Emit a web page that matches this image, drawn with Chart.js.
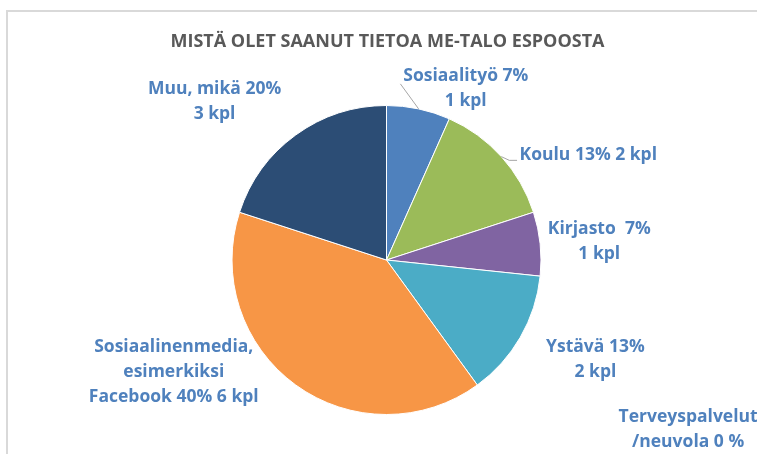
<!DOCTYPE html>
<html>
<head>
<meta charset="utf-8">
<script src="https://cdn.jsdelivr.net/npm/chart.js@4.4.1/dist/chart.umd.min.js"></script>
<style>
html,body{margin:0;padding:0;background:#fff;}
#wrap{position:relative;width:757px;height:454px;}
canvas{display:block;}
</style>
</head>
<body>
<div id="wrap"><canvas id="c" width="757" height="454"></canvas></div>
<script>
// ---- data ----
const categories = ["Sosiaalityö", "Koulu", "Kirjasto", "Ystävä", "Terveyspalvelut /neuvola", "Sosiaalinenmedia, esimerkiksi Facebook", "Muu, mikä"];
const counts = [1, 2, 1, 2, 0, 6, 3];
const labelLines = [
  ["Sosiaalityö 7%", "1 kpl"],
  ["Koulu 13% 2 kpl"],
  ["Kirjasto  7%", "1 kpl"],
  ["Ystävä 13%", "2 kpl"],
  ["Terveyspalvelut", "/neuvola 0 %"],
  ["Sosiaalinenmedia,", "esimerkiksi", "Facebook 40% 6 kpl"],
  ["Muu, mikä 20%", "3 kpl"]
];
const title = "MISTÄ OLET SAANUT TIETOA ME-TALO ESPOOSTA";

// ---- styles / label placement (in units of pie radius, relative to centre) ----
const colors = ["#4F81BD", "#9BBB59", "#8064A2", "#4BACC6", "#C0504D", "#F79646", "#2C4D75"];
const labelOffsets = [
  [0.513, -1.113], [1.306, -0.677], [1.377, -0.119], [1.352, 0.642],
  [1.952, 1.097], [-1.377, 0.723], [-1.113, -1.023]
];
const leaders = { 0: [[0.09, -1.14]], 1: [[0.795, -0.645], [0.845, -0.645]] };
const FONT = "'Open Sans', Lato, sans-serif";
const LABEL_COLOR = "#4F81BD";
const LINE_H = 25;

const overlay = {
  id: "overlay",
  afterDraw(chart) {
    const ctx = chart.ctx;
    const meta = chart.getDatasetMeta(0);
    const a0 = meta.data[0];
    const cx = a0.x, cy = a0.y, R = a0.outerRadius;
    ctx.save();
    // frame
    ctx.strokeStyle = "#D9D9D9";
    ctx.lineWidth = 2;
    ctx.beginPath();
    ctx.moveTo(7, 454); ctx.lineTo(7, 11); ctx.lineTo(757, 11);
    ctx.stroke();
    // title
    ctx.fillStyle = "#595959";
    ctx.font = "bold 18px " + FONT;
    ctx.textAlign = "center";
    ctx.textBaseline = "middle";
    ctx.fillText(title, cx + 1, 42);
    // leader lines
    ctx.strokeStyle = "#A6A6A6";
    ctx.lineWidth = 1;
    Object.keys(leaders).forEach(k => {
      const arc = meta.data[k];
      const mid = (arc.startAngle + arc.endAngle) / 2;
      ctx.beginPath();
      ctx.moveTo(cx + Math.cos(mid) * R, cy + Math.sin(mid) * R);
      leaders[k].forEach(p => ctx.lineTo(cx + p[0] * R, cy + p[1] * R));
      ctx.stroke();
    });
    // labels
    ctx.fillStyle = LABEL_COLOR;
    ctx.font = "bold 17.5px " + FONT;
    labelLines.forEach((lines, i) => {
      const lx = cx + labelOffsets[i][0] * R;
      const ly = cy + labelOffsets[i][1] * R;
      const n = lines.length;
      lines.forEach((t, j) => {
        ctx.fillText(t, lx, ly + (j - (n - 1) / 2) * LINE_H);
      });
    });
    ctx.restore();
  }
};

new Chart(document.getElementById("c"), {
  type: "pie",
  data: {
    labels: categories,
    datasets: [{
      data: counts,
      backgroundColor: colors,
      borderColor: "#ffffff",
      borderWidth: 1
    }]
  },
  options: {
    responsive: false,
    animation: false,
    layout: { padding: { top: 105, bottom: 39, left: 231.5, right: 215.5 } },
    plugins: { legend: { display: false }, tooltip: { enabled: false }, title: { display: false } }
  },
  plugins: [overlay]
});
</script>
</body>
</html>
